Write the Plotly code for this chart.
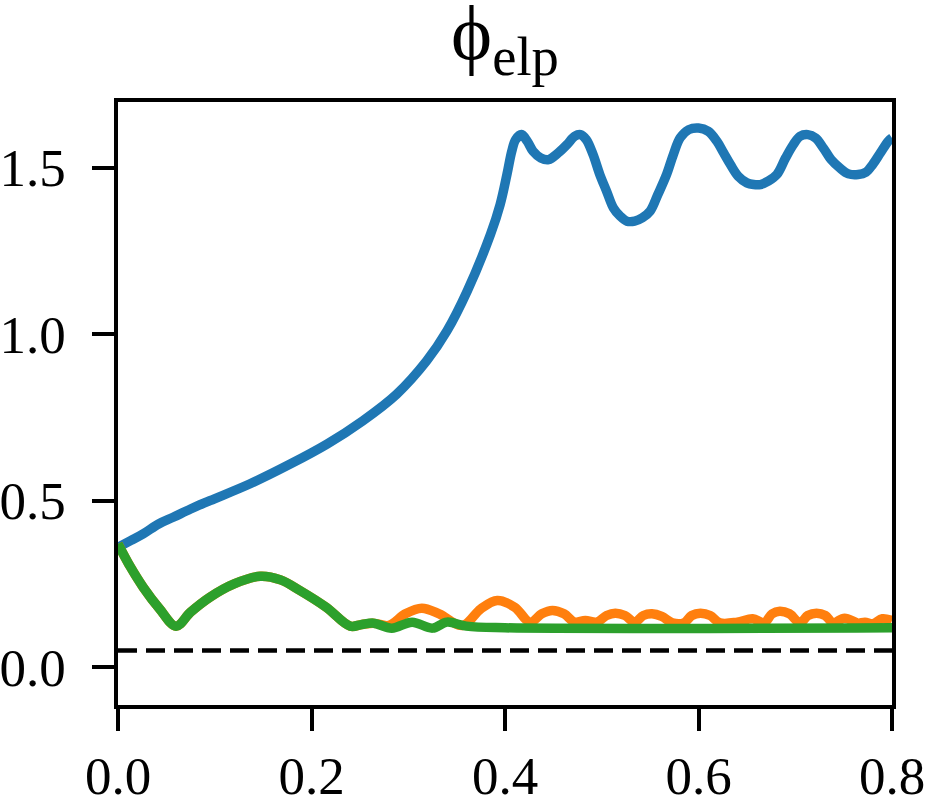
import plotly.graph_objects as go

COLORS = {
    "blue": "#1f77b4",
    "orange": "#ff7f0e",
    "green": "#2ca02c",
    "axis": "#000000",
}
FONT = "Liberation Serif, Times New Roman, serif"

# blue curve
blue_x = [0.0, 0.013, 0.026, 0.042, 0.057, 0.075, 0.095, 0.136, 0.178, 0.216, 0.253,
          0.288, 0.319, 0.340, 0.361, 0.385, 0.395, 0.402, 0.407, 0.411, 0.417, 0.423,
          0.429, 0.437, 0.445, 0.455, 0.464, 0.472, 0.478, 0.484, 0.491, 0.498, 0.505,
          0.512, 0.519, 0.526, 0.534, 0.542, 0.550, 0.558, 0.567, 0.574, 0.581, 0.590,
          0.600, 0.610, 0.619, 0.626, 0.633, 0.641, 0.650, 0.657, 0.664, 0.672, 0.681,
          0.690, 0.698, 0.705, 0.713, 0.721, 0.729, 0.737, 0.746, 0.755, 0.765, 0.773,
          0.780, 0.788, 0.796, 0.800]
blue_y = [0.36, 0.38, 0.40, 0.43, 0.45, 0.475, 0.50, 0.55, 0.61, 0.67, 0.74,
          0.82, 0.92, 1.01, 1.13, 1.30, 1.39, 1.48, 1.55, 1.585, 1.60, 1.58,
          1.55, 1.53, 1.525, 1.545, 1.57, 1.595, 1.60, 1.585, 1.54, 1.48, 1.43,
          1.38, 1.355, 1.34, 1.34, 1.35, 1.37, 1.42, 1.48, 1.54, 1.59, 1.615,
          1.62, 1.61, 1.58, 1.545, 1.51, 1.475, 1.455, 1.45, 1.45, 1.46, 1.48,
          1.53, 1.57, 1.595, 1.60, 1.59, 1.56, 1.525, 1.50, 1.482, 1.48, 1.487,
          1.51, 1.545, 1.58, 1.59]

# green curve
green_x = [0.0, 0.013, 0.026, 0.043, 0.06, 0.075, 0.095, 0.12, 0.147, 0.168, 0.188,
           0.215, 0.24, 0.252, 0.264, 0.283, 0.304, 0.325, 0.34, 0.36, 0.40, 0.8]
green_y = [0.37, 0.30, 0.24, 0.175, 0.123, 0.165, 0.21, 0.25, 0.273, 0.262, 0.23,
           0.18, 0.123, 0.128, 0.132, 0.117, 0.135, 0.117, 0.135, 0.123, 0.118, 0.118]

# orange curve (same as green up to x=0.264)
orange_x = [0.0, 0.013, 0.026, 0.043, 0.06, 0.075, 0.095, 0.12, 0.147, 0.168, 0.188,
            0.215, 0.24, 0.252, 0.264, 0.28, 0.297, 0.314,
            0.332, 0.356, 0.375, 0.392, 0.41, 0.426, 0.438, 0.449, 0.461, 0.472,
            0.483, 0.495, 0.505, 0.514, 0.524, 0.534, 0.543, 0.552, 0.562, 0.573,
            0.585, 0.593, 0.602, 0.612, 0.622, 0.64, 0.656, 0.668, 0.676, 0.684,
            0.694, 0.705, 0.713, 0.722, 0.731, 0.739, 0.751, 0.765, 0.772, 0.78,
            0.79, 0.8]
orange_y = [0.37, 0.30, 0.24, 0.175, 0.123, 0.165, 0.21, 0.25, 0.273, 0.262, 0.23,
            0.18, 0.123, 0.128, 0.132, 0.125, 0.16, 0.177,
            0.16, 0.125, 0.175, 0.20, 0.18, 0.135, 0.16, 0.17, 0.16, 0.135,
            0.14, 0.135, 0.155, 0.162, 0.155, 0.135, 0.155, 0.16, 0.152, 0.133,
            0.133, 0.155, 0.162, 0.155, 0.133, 0.135, 0.145, 0.133, 0.16, 0.168,
            0.16, 0.133, 0.155, 0.162, 0.155, 0.133, 0.147, 0.132, 0.135, 0.13,
            0.145, 0.14]

# dashed reference level
ref_x = [0.0, 0.8]
ref_y = [0.05, 0.05]

fig = go.Figure()
for xs, ys, c in [(blue_x, blue_y, "blue"), (orange_x, orange_y, "orange"),
                  (green_x, green_y, "green")]:
    fig.add_trace(go.Scatter(x=xs, y=ys, mode="lines",
                             line=dict(color=COLORS[c], width=9.5, shape="spline", smoothing=1.0)))
fig.add_trace(go.Scatter(x=ref_x, y=ref_y, mode="lines",
                         line=dict(color="black", width=4.5, dash="19px,9px")))

fig.update_layout(
    width=927, height=806,
    margin=dict(l=118, r=35, t=102, b=101),
    paper_bgcolor="white", plot_bgcolor="white",
    showlegend=False,
    font=dict(family=FONT, color="black", size=53),
    title=dict(text="ϕ<sub>elp</sub>", x=0.5, xref="paper", xanchor="center",
               y=0.995, yref="container", yanchor="top",
               font=dict(family=FONT, size=78, color="black")),
)
axis_style = dict(
    showgrid=False, zeroline=False, showline=True, mirror=True, automargin=False,
    linecolor=COLORS["axis"], linewidth=3.5,
    ticks="outside", ticklen=22, tickwidth=3.5, tickcolor=COLORS["axis"],
    tickfont=dict(family=FONT, size=53, color="black"),
)
fig.update_xaxes(range=[0, 0.8], tickvals=[0, 0.2, 0.4, 0.6, 0.8],
                 ticktext=["0.0", "0.2", "0.4", "0.6", "0.8"], **axis_style)
fig.update_yaxes(range=[-0.114, 1.698], tickvals=[0, 0.5, 1.0, 1.5],
                 ticktext=["0.0", "0.5", "1.0", "1.5"], ticklabelstandoff=16, **axis_style)

# drop the default page margin so the figure fills the window exactly
fig.write_html("out.html", config={"displayModeBar": False},
               post_script="document.body.style.margin='0';")
